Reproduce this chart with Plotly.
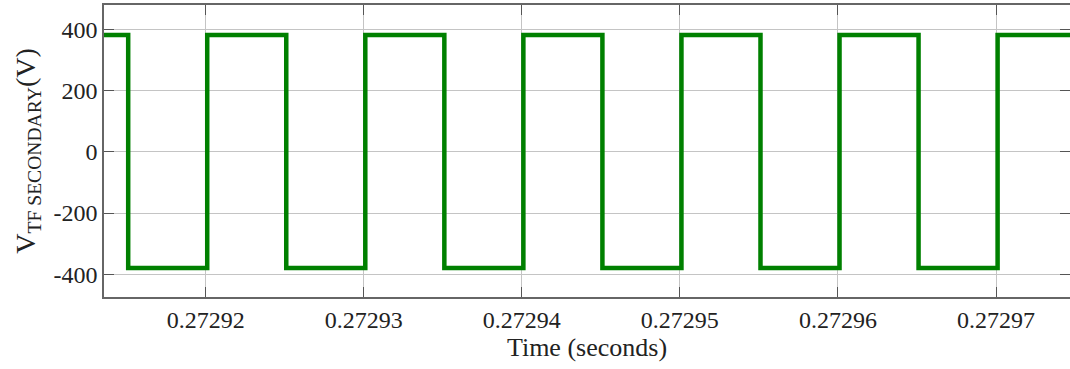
import plotly.graph_objects as go

# switching instants of the transformer secondary voltage (s)
t_points = [0.27291357, 0.2729151, 0.2729201, 0.2729251, 0.2729301, 0.2729351,
            0.2729401, 0.2729451, 0.2729501, 0.2729551, 0.2729601, 0.2729651,
            0.2729701, 0.27297468]
# voltage level starting at each instant (V)
v_levels = [381, -379, 381, -379, 381, -379, 381, -379, 381, -379, 381, -379, 381, 381]

x_tickvals = [0.27292, 0.27293, 0.27294, 0.27295, 0.27296, 0.27297]
x_ticktext = ["0.27292", "0.27293", "0.27294", "0.27295", "0.27296", "0.27297"]
y_tickvals = [-400, -200, 0, 200, 400]
y_ticktext = ["-400", "-200", "0", "200", "400"]

FONT = "Liberation Serif"
TXT = "#222222"

fig = go.Figure()
fig.add_trace(go.Scatter(
    x=t_points, y=v_levels, mode="lines", line_shape="hv",
    line=dict(color="#008000", width=4.5), hoverinfo="skip", showlegend=False,
))

fig.update_xaxes(
    range=[0.27291357, 0.27297468], tickmode="array", tickvals=x_tickvals, ticktext=x_ticktext,
    tickfont=dict(family=FONT, size=24, color=TXT),
    title=dict(text="Time (seconds)", font=dict(family=FONT, size=26, color=TXT), standoff=4),
    automargin=False,
    showline=True, linecolor="#666666", linewidth=1.5, mirror="ticks",
    ticks="inside", ticklen=10, tickwidth=1.2, tickcolor="#555555",
    showgrid=True, gridcolor="#c4c4c4", gridwidth=1, zeroline=False,
)
fig.update_yaxes(
    range=[-474, 479], tickmode="array", tickvals=y_tickvals, ticktext=y_ticktext,
    tickfont=dict(family=FONT, size=24, color=TXT),
    title=dict(text="V<sub>TF SECONDARY</sub>(V)", font=dict(family=FONT, size=28, color=TXT), standoff=10),
    automargin=False,
    showline=True, linecolor="#666666", linewidth=1.5, mirror="ticks",
    ticks="inside", ticklen=10, tickwidth=1.2, tickcolor="#555555",
    showgrid=True, gridcolor="#c4c4c4", gridwidth=1, zeroline=False,
)

fig.update_layout(
    width=1070, height=369,
    font=dict(family=FONT, size=24, color=TXT),
    margin=dict(l=104, r=0, t=5, b=72, pad=0),
    paper_bgcolor="white", plot_bgcolor="white",
)

fig.write_html("out.html")
